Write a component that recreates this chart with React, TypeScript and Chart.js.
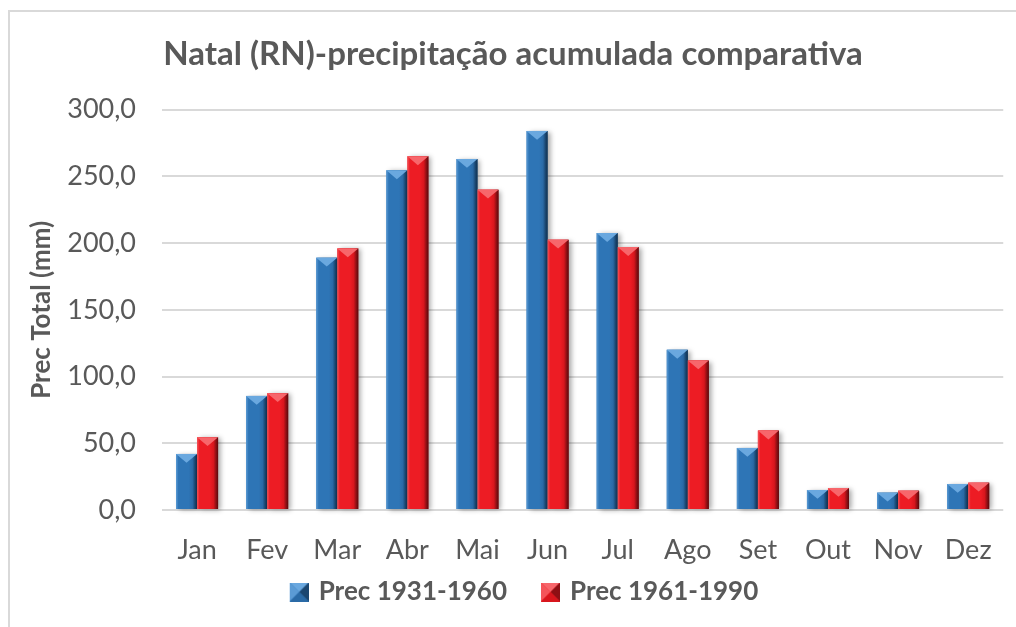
import React, { useEffect, useRef } from "react";
import { Chart, registerables } from "chart.js";

Chart.register(...registerables);

const TITLE = "Natal (RN)-precipitação acumulada comparativa";
const Y_TITLE = "Prec Total (mm)";
const months = ["Jan", "Fev", "Mar", "Abr", "Mai", "Jun", "Jul", "Ago", "Set", "Out", "Nov", "Dez"];
const prec1931_1960 = [42, 85.5, 189, 254.5, 263, 284, 207.5, 120, 46.5, 15, 13, 19.5];
const prec1961_1990 = [54.5, 87.5, 196, 265, 240, 202.5, 197, 112, 59.5, 16.5, 14.5, 20.5];
const seriesNames = ["Prec 1931-1960", "Prec 1961-1990"];
const Y_MIN = 0;
const Y_MAX = 300;
const Y_STEP = 50;

const FONT = "Lato, 'Open Sans', sans-serif";
const TEXT = "#595959";

const PALETTE = [
  { light: "#5b9bd5", base: "#2e75b6", mid: "#2a6aa6", dark: "#1a4670", darkest: "#10304f", cap: "#6aa8df" },
  { light: "#f4555a", base: "#ed1c24", mid: "#d8161d", dark: "#8e0f14", darkest: "#5a090c", cap: "#f7666b" },
];

const MARK = 19;
const MARK_LEAD = 25; // transparent lead-in space before the legend marker
const MARK_BOX = MARK + MARK_LEAD - 6;

function makeMarker(p: typeof PALETTE[0]) {
  const s = MARK;
  const c = document.createElement("canvas");
  c.width = s + MARK_LEAD;
  c.height = s;
  const g = c.getContext("2d")!;
  g.translate(MARK_LEAD, 0);
  g.fillStyle = p.base;
  g.fillRect(0, 0, s, s);
  const m = s / 2;
  g.fillStyle = p.cap;
  g.beginPath(); g.moveTo(0, 0); g.lineTo(s, 0); g.lineTo(m, m); g.closePath(); g.fill();
  g.fillStyle = p.light;
  g.beginPath(); g.moveTo(0, 0); g.lineTo(m, m); g.lineTo(0, s); g.closePath(); g.fill();
  g.fillStyle = p.dark;
  g.beginPath(); g.moveTo(s, 0); g.lineTo(m, m); g.lineTo(s, s); g.closePath(); g.fill();
  g.fillStyle = p.mid;
  g.beginPath(); g.moveTo(0, s); g.lineTo(m, m); g.lineTo(s, s); g.closePath(); g.fill();
  return c;
}

const bevelPlugin = {
  id: "bevel",
  afterDatasetsDraw(chart: any) {
    const ctx = chart.ctx;
    chart.data.datasets.forEach((_: any, di: number) => {
      const meta = chart.getDatasetMeta(di);
      const p = PALETTE[di];
      meta.data.forEach((el: any) => {
        const { x, y, base, width } = el.getProps(["x", "y", "base", "width"], true);
        const l = x - width / 2;
        const r = x + width / 2;
        const h = base - y;
        if (h <= 0) return;
        ctx.save();
        const grad = ctx.createLinearGradient(l, 0, r, 0);
        grad.addColorStop(0, p.light);
        grad.addColorStop(0.12, p.base);
        grad.addColorStop(0.6, p.base);
        grad.addColorStop(0.78, p.mid);
        grad.addColorStop(0.9, p.dark);
        grad.addColorStop(1, p.darkest);
        ctx.shadowColor = "rgba(0,0,0,0.35)";
        ctx.shadowBlur = 5;
        ctx.shadowOffsetX = 3;
        ctx.shadowOffsetY = 1;
        ctx.fillStyle = grad;
        ctx.fillRect(l, y, width, h);
        ctx.shadowColor = "transparent";
        const capH = Math.min(width * 0.42, h);
        ctx.fillStyle = p.cap;
        ctx.beginPath();
        ctx.moveTo(l, y);
        ctx.lineTo(r, y);
        ctx.lineTo(x, y + capH);
        ctx.closePath();
        ctx.fill();
        ctx.restore();
      });
    });
  },
};

export default function App() {
  const ref = useRef<HTMLCanvasElement>(null);
  useEffect(() => {
    const markers = PALETTE.map(makeMarker);
    const chart = new Chart(ref.current!, {
      type: "bar",
      data: {
        labels: months,
        datasets: [
          { label: seriesNames[0], data: prec1931_1960, backgroundColor: PALETTE[0].base, borderWidth: 0 },
          { label: seriesNames[1], data: prec1961_1990, backgroundColor: PALETTE[1].base, borderWidth: 0 },
        ],
      },
      options: {
        responsive: false,
        animation: false,
        devicePixelRatio: 1,
        datasets: { bar: { categoryPercentage: 0.6, barPercentage: 1.0 } },
        layout: { padding: { left: 20, right: 10, top: 0, bottom: 12 } },
        plugins: {
          tooltip: { enabled: false },
          title: {
            display: true,
            text: TITLE,
            color: TEXT,
            font: { family: FONT, size: 33, weight: "bold", lineHeight: 1.2 },
            padding: { top: 35, bottom: 35 },
          },
          legend: {
            position: "bottom",
            labels: {
              color: TEXT,
              font: { family: FONT, size: 26, weight: "bold" },
              usePointStyle: true,
              pointStyleWidth: MARK_BOX,
              boxWidth: MARK,
              boxHeight: MARK,
              padding: 12,
              generateLabels(c: any) {
                const items = Chart.defaults.plugins.legend.labels.generateLabels(c);
                return items.map((it: any, i: number) => ({ ...it, pointStyle: markers[i] }));
              },
            },
          },
        },
        scales: {
          x: {
            afterFit(scale: any) {
              scale.height = 57;
            },
            grid: { display: false, drawTicks: false },
            border: { display: false },
            ticks: { color: TEXT, font: { family: FONT, size: 27, lineHeight: 1.2 }, padding: 24 },
          },
          y: {
            min: Y_MIN,
            max: Y_MAX,
            afterFit(scale: any) {
              scale.width = 142;
            },
            ticks: {
              stepSize: Y_STEP,
              color: TEXT,
              padding: 26,
              font: { family: FONT, size: 27 },
              callback: (v: any) => Number(v).toFixed(1).replace(".", ","),
            },
            grid: { color: "#d9d9d9", lineWidth: 2, drawTicks: false },
            border: { display: false },
            title: {
              display: true,
              text: Y_TITLE,
              color: TEXT,
              font: { family: FONT, size: 26, weight: "bold", lineHeight: 1.2 },
              padding: { top: 6, bottom: 0 },
            },
          },
        },
      },
      plugins: [bevelPlugin],
    });
    return () => chart.destroy();
  }, []);
  return (
    <div style={{ position: "absolute", left: 0, top: 0, width: 1016, height: 627, background: "#fff", overflow: "hidden" }}>
      <div
        style={{
          position: "absolute",
          left: 8,
          top: 10,
          width: 1100,
          height: 700,
          borderLeft: "2px solid #d9d9d9",
          borderTop: "2px solid #d9d9d9",
        }}
      />
      <canvas ref={ref} width={1016} height={627} style={{ position: "absolute", left: 0, top: 0 }} />
    </div>
  );
}
